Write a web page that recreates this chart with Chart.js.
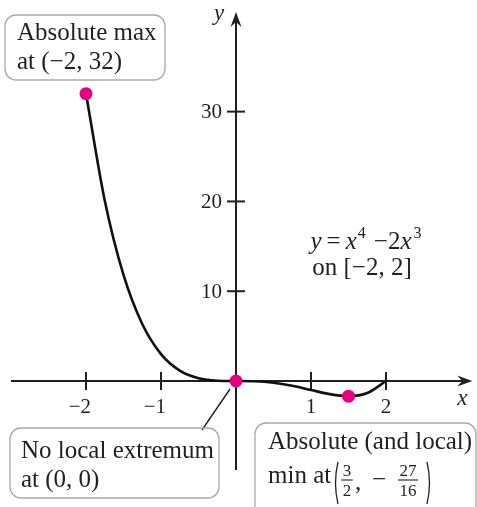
<!DOCTYPE html>
<html>
<head>
<meta charset="utf-8">
<script src="https://cdn.jsdelivr.net/npm/chart.js@4/dist/chart.umd.min.js"></script>
<style>
  html, body { margin: 0; padding: 0; background: #fff; }
  #wrap { width: 477px; height: 507px; }
</style>
</head>
<body>
<div id="wrap"><canvas id="extremaChart" width="477" height="507"></canvas></div>
<script>
// y = x^4 - 2x^3 sampled on [-2, 2]
const curveX = [-2, -1.75, -1.5, -1.25, -1, -0.75, -0.5, -0.25, 0, 0.25, 0.5, 0.75, 1, 1.25, 1.5, 1.75, 2];
const curveY = [32, 20.1, 11.81, 6.35, 3, 1.16, 0.31, 0.035, 0, -0.027, -0.19, -0.53, -1, -1.46, -1.69, -1.34, 0];

// highlighted points: absolute max, origin, absolute min
const extremaX = [-2, 0, 1.5];
const extremaY = [32, 0, -1.6875];

const xTicks = [-2, -1, 1, 2];
const xTickLabels = ["\u22122", "\u22121", "1", "2"];
const yTicks = [10, 20, 30];
const yTickLabels = ["10", "20", "30"];

const INK = "#231f20";
const DOT = "#e6007e";
const BOX = "#a7a9ac";
const SERIF = "'Liberation Serif', 'DejaVu Serif', serif";

function font(size, italic) {
  return (italic ? "italic " : "") + size + "px " + SERIF;
}

// draws a list of {t, f, dy} runs starting at x (or centred on x)
function drawRuns(ctx, runs, x, y, centred) {
  let w = 0;
  runs.forEach(r => { ctx.font = r.f; w += ctx.measureText(r.t).width + (r.gap || 0); });
  let cx = centred ? x - w / 2 : x;
  ctx.textAlign = "left";
  ctx.textBaseline = "alphabetic";
  runs.forEach(r => {
    ctx.font = r.f;
    ctx.fillText(r.t, cx, y + (r.dy || 0));
    cx += ctx.measureText(r.t).width + (r.gap || 0);
  });
}

function roundBox(ctx, x, y, w, h, r) {
  ctx.beginPath();
  ctx.roundRect(x, y, w, h, r);
  ctx.lineWidth = 1.3;
  ctx.strokeStyle = BOX;
  ctx.stroke();
}

function arrowHead(ctx, tx, ty, dx, dy) {
  // stealth-style head pointing along (dx, dy)
  const len = 15, half = 5.5, notch = 10;
  const px = -dy, py = dx;
  ctx.beginPath();
  ctx.moveTo(tx, ty);
  ctx.lineTo(tx - dx * len + px * half, ty - dy * len + py * half);
  ctx.lineTo(tx - dx * notch, ty - dy * notch);
  ctx.lineTo(tx - dx * len - px * half, ty - dy * len - py * half);
  ctx.closePath();
  ctx.fillStyle = INK;
  ctx.fill();
}

function paren(ctx, x, top, bottom, open) {
  const mid = (top + bottom) / 2;
  const bow = open ? -5 : 5;
  ctx.beginPath();
  ctx.moveTo(x, top);
  ctx.quadraticCurveTo(x + bow, mid, x, bottom);
  ctx.lineWidth = 1.3;
  ctx.strokeStyle = INK;
  ctx.stroke();
}

function fraction(ctx, num, den, cx, barY, size) {
  ctx.font = font(size);
  ctx.textAlign = "center";
  ctx.textBaseline = "alphabetic";
  ctx.fillStyle = INK;
  ctx.fillText(num, cx, barY - 4);
  ctx.fillText(den, cx, barY + size - 1);
  const w = Math.max(ctx.measureText(num).width, ctx.measureText(den).width) + 3;
  ctx.beginPath();
  ctx.moveTo(cx - w / 2, barY);
  ctx.lineTo(cx + w / 2, barY);
  ctx.lineWidth = 1.1;
  ctx.strokeStyle = INK;
  ctx.stroke();
}

const axesPlugin = {
  id: "crossAxes",
  beforeDatasetsDraw(chart) {
    const { ctx, scales: { x, y } } = chart;
    const ox = x.getPixelForValue(0), oy = y.getPixelForValue(0);
    ctx.save();
    ctx.strokeStyle = INK;
    ctx.lineWidth = 2;

    // x axis
    const xl = x.getPixelForValue(-3.0), xr = x.getPixelForValue(3.15);
    ctx.beginPath(); ctx.moveTo(xl, oy); ctx.lineTo(xr - 8, oy); ctx.stroke();
    arrowHead(ctx, xr, oy, 1, 0);

    // y axis
    const yb = y.getPixelForValue(-9.9), yt = y.getPixelForValue(41.1);
    ctx.beginPath(); ctx.moveTo(ox, yb); ctx.lineTo(ox, yt + 8); ctx.stroke();
    arrowHead(ctx, ox, yt, 0, -1);

    // tick marks crossing the axes
    ctx.lineWidth = 2;
    xTicks.forEach(v => {
      const px = x.getPixelForValue(v);
      ctx.beginPath(); ctx.moveTo(px, oy - 9); ctx.lineTo(px, oy + 9); ctx.stroke();
    });
    yTicks.forEach(v => {
      const py = y.getPixelForValue(v);
      ctx.beginPath(); ctx.moveTo(ox - 9, py); ctx.lineTo(ox + 9, py); ctx.stroke();
    });

    // tick labels
    ctx.fillStyle = INK;
    ctx.font = font(21);
    ctx.textBaseline = "alphabetic";
    xTicks.forEach((v, i) => {
      const px = x.getPixelForValue(v);
      const lab = xTickLabels[i];
      if (lab.startsWith("\u2212")) {
        ctx.textAlign = "right";
        ctx.fillText(lab, px + 5, oy + 32);
      } else {
        ctx.textAlign = "center";
        ctx.fillText(lab, px, oy + 32);
      }
    });
    ctx.textAlign = "right";
    ctx.textBaseline = "middle";
    yTicks.forEach((v, i) => {
      ctx.fillText(yTickLabels[i], ox - 14, y.getPixelForValue(v) + 1);
    });

    // axis names
    ctx.font = font(23, true);
    ctx.textAlign = "center";
    ctx.textBaseline = "alphabetic";
    ctx.fillText("x", xr - 10, oy + 24);
    ctx.fillText("y", ox - 17, yt + 8);
    ctx.restore();
  },
  afterDraw(chart) {
    const { ctx, scales: { x, y } } = chart;
    const ox = x.getPixelForValue(0), oy = y.getPixelForValue(0);
    ctx.save();
    ctx.fillStyle = INK;

    // equation
    const f = font(25), fi = font(25, true), fs = font(16);
    drawRuns(ctx, [
      { t: "y", f: fi, gap: 5 }, { t: "=", f: f, gap: 5 }, { t: "x", f: fi, gap: 1 },
      { t: "4", f: fs, dy: -11, gap: 8 }, { t: "\u22122", f: f }, { t: "x", f: fi, gap: 2 },
      { t: "3", f: fs, dy: -11 }
    ], 366, 249, true);
    drawRuns(ctx, [{ t: "on [\u22122, 2]", f: f }], 362, 275, true);

    // absolute max note
    roundBox(ctx, 5, 15, 160, 65, 11);
    ctx.fillStyle = INK;
    drawRuns(ctx, [{ t: "Absolute max", f: f }], 17, 40);
    drawRuns(ctx, [{ t: "at (\u22122, 32)", f: f }], 17, 69);

    // origin note with leader line
    ctx.beginPath();
    ctx.moveTo(ox - 6, oy + 8);
    ctx.lineTo(202, 430);
    ctx.lineWidth = 1.4;
    ctx.strokeStyle = INK;
    ctx.stroke();
    roundBox(ctx, 10, 428, 209, 70, 11);
    ctx.fillStyle = INK;
    drawRuns(ctx, [{ t: "No local extremum", f: f }], 21, 458);
    drawRuns(ctx, [{ t: "at (0, 0)", f: f }], 21, 487);

    // absolute min note
    roundBox(ctx, 255, 423, 221, 100, 11);
    ctx.fillStyle = INK;
    drawRuns(ctx, [{ t: "Absolute (and local)", f: f }], 268, 449);
    drawRuns(ctx, [{ t: "min at", f: f }], 268, 483);
    paren(ctx, 338, 462, 504, true);
    fraction(ctx, "3", "2", 347, 480, 17);
    ctx.font = f;
    ctx.textAlign = "left";
    ctx.fillText(",", 355, 490);
    ctx.fillText("\u2212", 372, 487);
    fraction(ctx, "27", "16", 408, 480, 17);
    paren(ctx, 427, 462, 504, false);

    ctx.restore();
  }
};

new Chart(document.getElementById("extremaChart"), {
  type: "line",
  data: {
    datasets: [
      {
        data: extremaX.map((v, i) => ({ x: v, y: extremaY[i] })),
        showLine: false,
        pointRadius: 6.5,
        pointBackgroundColor: DOT,
        pointBorderWidth: 0
      },
      {
        data: curveX.map((v, i) => ({ x: v, y: curveY[i] })),
        borderColor: "#111",
        borderWidth: 2.6,
        cubicInterpolationMode: "monotone",
        pointRadius: 0,
        fill: false
      }
    ]
  },
  options: {
    responsive: false,
    devicePixelRatio: 1,
    animation: false,
    layout: { padding: 0, autoPadding: false },
    plugins: { legend: { display: false }, tooltip: { enabled: false } },
    scales: {
      x: { type: "linear", min: -3.1467, max: 3.2133, display: false },
      y: { type: "linear", min: -14.03, max: 42.43, display: false }
    }
  },
  plugins: [axesPlugin]
});
</script>
</body>
</html>
